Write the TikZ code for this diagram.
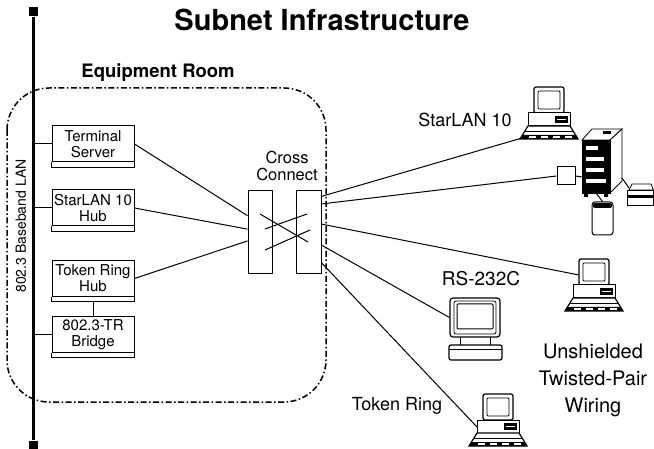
\documentclass[tikz,border=0pt]{standalone}
\usepackage{fontspec}
\setmainfont{TeX Gyre Heros}
\usetikzlibrary{calc}

\tikzset{
  unitbox/.style={draw, line width=1pt, minimum width=82pt, minimum height=36pt,
    inner sep=1pt, align=center, font=\fontsize{15}{16}\selectfont},
  panel/.style={draw, line width=1pt, minimum width=24pt, minimum height=83pt, inner sep=0pt},
  wire/.style={line width=1pt},
  sitetext/.style={font=\fontsize{18}{20}\selectfont},
  room/.style={line width=1.5pt, rounded corners=42pt,
    dash pattern=on 6pt off 2.5pt on 1.5pt off 2.5pt},
  desktop/.pic={
    % monitor
    \draw[line width=1.2pt, rounded corners=2pt, fill=white] (-15,-26) rectangle (15,0);
    \draw[line width=0.8pt, rounded corners=1pt] (-11,-22) rectangle (11,-4);
    % system unit
    \draw[line width=1pt, fill=white] (-21,0) rectangle (21,13);
    \fill (6,3) rectangle (19,10);
    \draw[white, line width=0.5pt] (8,6.5) -- (17,6.5);
    % keyboard
    \draw[line width=1.2pt, fill=white] (-21,13) -- (21,13) -- (29,26) -- (-29,26) -- cycle;
    \draw[line width=0.8pt] (-24,18) -- (24,18);
    \fill (-27,22) -- (27,22) -- (29,26) -- (-29,26) -- cycle;
    \foreach \k in {-20,-8,4,16} \fill[white] (\k,23) rectangle ++(7,2);
    \coordinate (-kbd) at (-27,25);
    \coordinate (-mon) at (-15,-10);
    \coordinate (-case) at (-21,7);
  },
}

\begin{document}
\begin{tikzpicture}[x=1pt, y=-1pt]
  \useasboundingbox (0,0) rectangle (654,449);

  \node[font=\bfseries\fontsize{29}{32}\selectfont, anchor=base] (title) at (322,31) {Subnet Infrastructure};

  % equipment room
  \draw[room] (7,88) rectangle (326,402);
  \node[font=\bfseries\fontsize{18.5}{20}\selectfont, anchor=base] (roomlbl) at (158,78) {Equipment Room};

  % baseband LAN
  \node[fill, minimum size=9pt, inner sep=0pt] (capT) at (33,12) {};
  \node[fill, minimum size=9pt, inner sep=0pt] (capB) at (33,445) {};
  \draw[line width=3pt] (capT) -- (capB);
  \node[rotate=90, font=\fontsize{14}{16}\selectfont] (lanlbl) at (21,226) {802.3 Baseband LAN};

  \node[unitbox] (tserv) at (93,144) {Terminal\\Server};
  \node[unitbox] (shub) at (93,208) {StarLAN 10\\Hub};
  \node[unitbox] (thub) at (93,278.5) {Token Ring\\Hub};
  \node[unitbox] (brdg) at (93,334.5) {802.3-TR\\Bridge};
  \foreach \b in {tserv,shub,thub,brdg}
    \draw[line width=1pt] (\b.south west) -- ++(0,5) -- ($(\b.south east)+(0,5)$) -- (\b.south east);

  \foreach \b in {tserv,shub,brdg}
    \draw[wire] (\b.west) -- (\b.west -| capT);
  \draw[wire] (brdg.north) -- ($(thub.south)+(0,5)$);

  % cross connect
  \node[font=\fontsize{16.5}{17}\selectfont, align=center] (cclbl) at (287,166) {Cross\\Connect};
  \node[panel] (ccl) at (260,232.5) {};
  \node[panel, minimum width=25pt] (ccr) at (308.5,232.5) {};
  \draw[wire] (260,214) -- (308,242);
  \draw[wire] (265,229) -- (307,214);
  \draw[wire] (265,250) -- (310,230);

  \foreach \s/\f in {tserv/0.30, shub/0.46, thub/0.60}
    \draw[wire] (\s.east) -- ($(ccl.north west)!\f!(ccl.south west)$);

  % stations
  \pic (pcA) at (549,113) {desktop};
  \pic (pcB) at (594,285) {desktop};
  \pic (pcC) at (498,420) {desktop};
  \node[sitetext] (starlbl) at (465,120) {StarLAN 10};
  \node[sitetext] (tokenlbl) at (397,406) {Token Ring};
  \node[font=\fontsize{19}{20}\selectfont] (rslbl) at (481,279) {RS-232C};
  \node[font=\fontsize{20}{27}\selectfont, align=center] (utplbl) at (593,380) {Unshielded\\Twisted-Pair\\Wiring};

  % terminal
  \node[draw, line width=1.2pt, rounded corners=3pt, minimum width=50pt, minimum height=39pt] (trm) at (475,317.5) {};
  \draw[line width=0.8pt, rounded corners=2pt] (454,301) rectangle (496,334);
  \draw[line width=1pt, rounded corners=1pt] (457,304) rectangle (493,329);
  \draw[line width=1pt] (460,337) -- (460,345) (490,337) -- (490,345);
  \draw[line width=1.2pt, rounded corners=2pt] (449,345) rectangle (502,360);
  \draw[line width=0.8pt] (449,349) -- (502,349);

  % host cabinet
  \draw[fill=white, line width=0.8pt] (582,140) -- (592,129) -- (622,129) -- (610,140) -- cycle;
  \fill (603,131.5) rectangle (611,134.5);
  \draw[fill=white, line width=0.8pt] (610,140) -- (622,129) -- (622,181) -- (610,193) -- cycle;
  \filldraw[line width=0.8pt] (582,140) rectangle (610,193);
  \foreach \u/\w in {146/12, 157/18, 168/18, 179/20}
    \fill[white] (586,\u) rectangle ++(\w,4);
  \fill (584,193) rectangle (588,197) (604,193) rectangle (608,197);
  \coordinate (srvL) at (582,177);
  \coordinate (srvR) at (622,178);
  \coordinate (srvB) at (596,193);

  \node[draw, line width=1pt, minimum size=18pt, inner sep=0pt] (mdm) at (566,176) {};
  \node[draw, line width=1pt, rounded corners=3pt, minimum width=21pt, minimum height=33pt] (drv) at (602.5,218.5) {};
  \fill[rounded corners=2pt] (593,203) rectangle (612,208);

  % printer
  \draw[fill=white, line width=0.8pt] (629,190) -- (632,184) -- (651,184) -- (653.5,190) -- cycle;
  \draw[line width=0.8pt] (627,190) rectangle (653.5,205);
  \fill (627,195) rectangle (653.5,198.5);
  \coordinate (prn) at (629,188);

  \draw[wire] (mdm.east) -- (srvL);
  \draw[wire] (srvR) -- (prn);
  \draw[wire] (srvB) -- (drv.north);

  \foreach \f/\t in {0.07/pcA-kbd, 0.16/mdm.west, 0.40/pcB-mon, 0.65/trm.west, 0.86/pcC-case}
    \draw[wire] ($(ccr.north east)!\f!(ccr.south east)$) -- (\t);
\end{tikzpicture}
\end{document}
